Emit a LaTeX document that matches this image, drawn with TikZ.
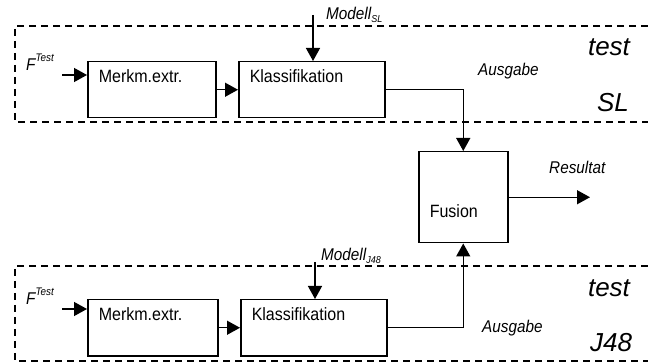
\documentclass[tikz,border=0pt]{standalone}
\usepackage{fontspec}
\setmainfont{Liberation Sans}[FakeStretch=0.9]
\newfontfamily\bigfont{Liberation Sans}
\usetikzlibrary{arrows.meta, positioning, calc}

\newcommand{\lowtxt}[1]{\raisebox{-3pt}{\fontsize{10}{11}\selectfont #1}}

\begin{document}
\begin{tikzpicture}[x=1pt, y=-1pt,
    block/.style={draw, line width=1.5pt, anchor=north west, inner xsep=11pt, inner ysep=9pt,
                  text height=12pt, text depth=26pt, align=left, font=\fontsize{17.8}{20}\selectfont},
    frame/.style={line width=1.5pt, dash pattern=on 7pt off 5pt},
    arr/.style={line width=1.4pt, -{Triangle[length=13pt,width=14pt]}},
    lbl/.style={anchor=base west, inner sep=0pt, font=\fontsize{17}{20}\selectfont\itshape},
    big/.style={anchor=base, inner sep=0pt, font=\bigfont\fontsize{26}{30}\selectfont\itshape}
]
\useasboundingbox (0,0) rectangle (648,363);

\draw[frame] (648,26) -| (15,122) -- (648,122);
\draw[frame] (648,266) -| (15,361) -- (648,361);

\node[block, text width=106pt] (merk1) at (87,61) {Merkm.extr.};
\node[block, text width=124pt] (klass1) at (238,61) {Klassifikation};
\node[block, text width=108pt] (merk2) at (87,299) {Merkm.extr.};
\node[block, text width=124pt] (klass2) at (240,299) {Klassifikation};
\node[block, text width=67pt, text height=57pt, text depth=16pt] (fus) at (418,151) {Fusion};

\coordinate (fin1) at (62,75);
\coordinate (fin2) at (62,309);
\coordinate (mod1) at (313,15);
\coordinate (mod2) at (315,262);
\coordinate (res) at (590,196);

\node[lbl] (ftest1) at (26,71) {F\raisebox{9pt}{\fontsize{11}{12}\selectfont Test}};
\node[lbl] (ftest2) at (26,305) {F\raisebox{9pt}{\fontsize{11}{12}\selectfont Test}};
\node[lbl] (modsl) at (326,20) {Modell\lowtxt{SL}};
\node[lbl] (modj48) at (321,261) {Modell\lowtxt{J48}};
\node[lbl] (aus1) at (478,76) {Ausgabe};
\node[lbl] (aus2) at (482,333) {Ausgabe};
\node[lbl] (resl) at (549,174) {Resultat};
\node[big] (test1) at (609,56) {test};
\node[big] (sl) at (613,112) {SL};
\node[big] (test2) at (609,297) {test};
\node[big] (j48) at (611,352) {J48};

\draw[arr] (fin1) -- (fin1 -| merk1.west);
\draw[arr] (fin2) -- (fin2 -| merk2.west);
\draw[arr] (merk1) -- (klass1);
\draw[arr] (merk2) -- (klass2);
\draw[arr] (mod1) -- (mod1 |- klass1.north);
\draw[arr] (mod2) -- (mod2 |- klass2.north);
\draw[arr] (klass1.east) -| (fus.north);
\draw[arr] (klass2.east) -| (fus.south);
\draw[arr] (fus.east) -- (fus.east -| res);
\end{tikzpicture}
\end{document}
